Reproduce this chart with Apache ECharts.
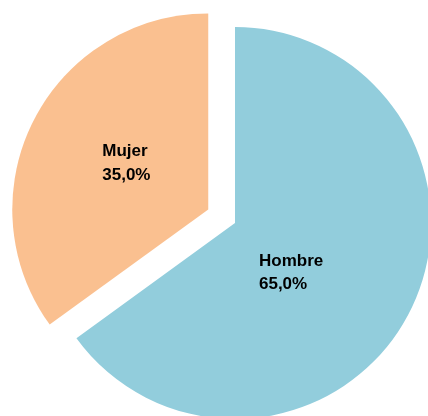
<!DOCTYPE html>
<html><head><meta charset="utf-8">
<script src="https://cdn.jsdelivr.net/npm/echarts@6/dist/echarts.min.js"></script>
<style>html,body{margin:0;padding:0;background:#fff}#c{width:428px;height:416px}</style>
</head><body><div id="c"></div>
<script>
const categories = ['Hombre', 'Mujer'];
const values = [65.0, 35.0];
const colors = ['#92CDDC', '#FAC090'];
const exploded = [false, true];

const chart = echarts.init(document.getElementById('c'), null, {renderer: 'canvas'});
chart.setOption({
  animation: false,
  backgroundColor: '#fff',
  series: [{
    type: 'pie',
    center: [235, 223],
    radius: 196,
    startAngle: 90,
    clockwise: true,
    selectedMode: 'multiple',
    selectedOffset: 30,
    emphasis: {disabled: true},
    itemStyle: {borderWidth: 0},
    label: {
      show: true,
      position: 'inside',
      color: '#000',
      fontFamily: '"Liberation Sans", Arial, sans-serif',
      fontWeight: 'bold',
      fontSize: 17,
      lineHeight: 23.5,
      formatter: p => p.name + '\n' + p.value.toFixed(1).replace('.', ',') + '%'
    },
    labelLayout: p => p.dataIndex === 0
      ? {align: 'left', dx: -66, dy: 4}
      : {align: 'left', dx: -16, dy: 0},
    labelLine: {show: false},
    data: categories.map((c, i) => ({
      name: c, value: values[i], selected: exploded[i],
      itemStyle: {color: colors[i]}
    }))
  }]
});
</script></body></html>
